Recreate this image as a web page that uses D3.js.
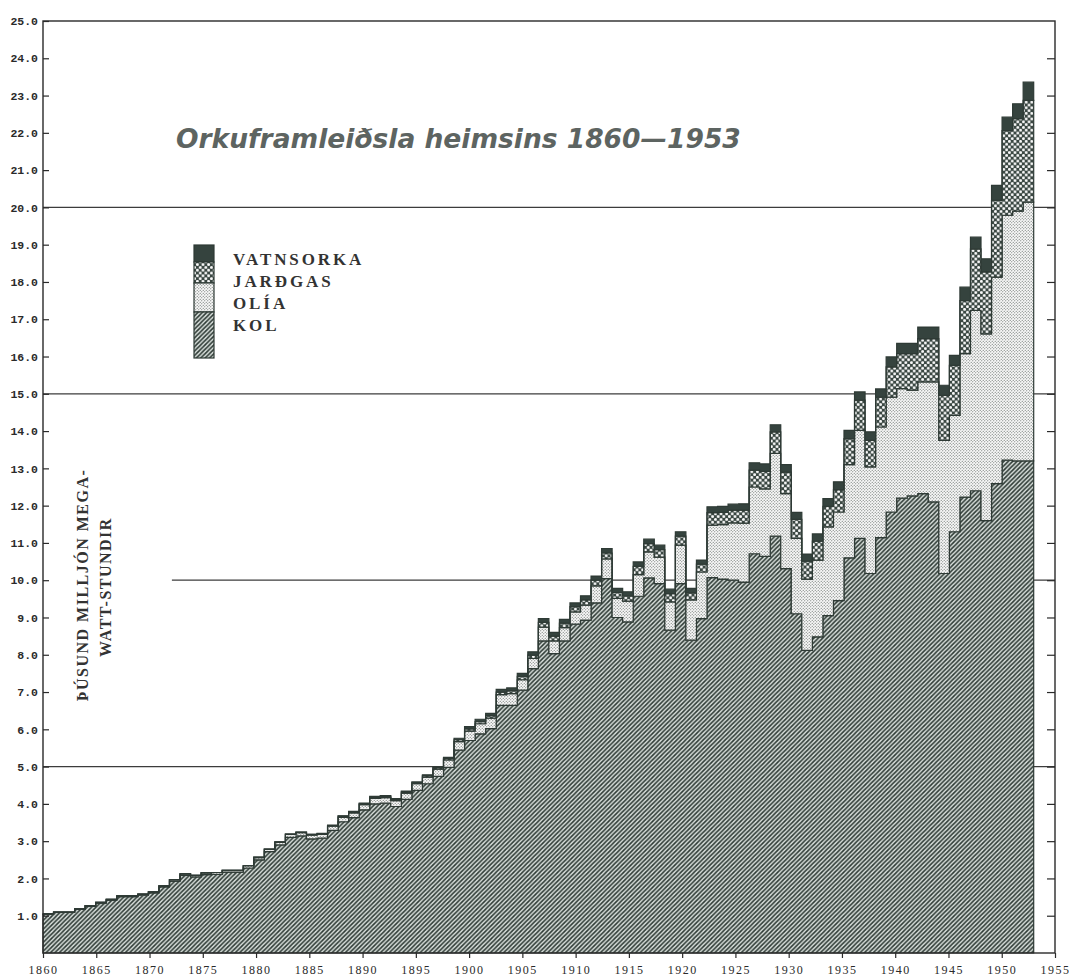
<!DOCTYPE html>
<html lang="is">
<head>
<meta charset="UTF-8">
<title>Orkuframleiðsla heimsins 1860—1953</title>
<script src="https://d3js.org/d3.v7.min.js"></script>
<style>
  body { margin: 0; background: #fff; }
  svg { display: block; background: #fff; }
  .ylab { font: bold 11.5px "Liberation Mono", monospace; fill: #2a2a2a; }
  .xlab { font: 12px "Liberation Serif", serif; fill: #2a2a2a; letter-spacing: 1.5px; }
  .leg { font: bold 17px "Liberation Serif", serif; fill: #333; letter-spacing: 2.9px; }
  .ytitle { font: bold 16px "Liberation Serif", serif; fill: #333; letter-spacing: 1.5px; }
  .title { font: italic bold 26.5px "DejaVu Sans", sans-serif; fill: #5d6461; }
</style>
</head>
<body>
<svg width="1069" height="976"></svg>
<script>
// ár 1860-1953 (eitt gildi á ári), í þúsund milljón megawattstundum
const years = d3.range(1860, 1954);

const kol = [
  1.04, 1.09, 1.09, 1.17, 1.25, 1.34, 1.42, 1.51, 1.51, 1.55,
  1.61, 1.77, 1.93, 2.08, 2.04, 2.10, 2.11, 2.17, 2.17, 2.28,
  2.50, 2.72, 2.90, 3.10, 3.14, 3.06, 3.08, 3.29, 3.52, 3.63,
  3.84, 4.00, 4.02, 3.93, 4.12, 4.36, 4.54, 4.74, 4.98, 5.44,
  5.70, 5.88, 6.02, 6.64, 6.64, 7.05, 7.63, 8.37, 8.03, 8.37,
  8.82, 8.93, 9.39, 10.04, 9.00, 8.88, 9.57, 10.06, 9.91, 8.66,
  9.91, 8.39, 8.97, 10.07, 10.03, 10.00, 9.95, 10.71, 10.64, 11.18,
  10.31, 9.10, 8.12, 8.48, 9.05, 9.45, 10.60, 11.12, 10.18, 11.14,
  11.83, 12.20, 12.26, 12.32, 12.10, 10.18, 11.30, 12.23, 12.40, 11.60,
  12.59, 13.22, 13.20, 13.20
];
const olia = [
  0.01, 0.01, 0.01, 0.02, 0.02, 0.02, 0.02, 0.02, 0.03, 0.03,
  0.03, 0.03, 0.04, 0.04, 0.04, 0.05, 0.05, 0.05, 0.05, 0.06,
  0.06, 0.06, 0.07, 0.08, 0.09, 0.10, 0.10, 0.11, 0.12, 0.13,
  0.14, 0.15, 0.15, 0.16, 0.17, 0.18, 0.18, 0.19, 0.20, 0.23,
  0.25, 0.27, 0.28, 0.29, 0.32, 0.28, 0.27, 0.37, 0.34, 0.36,
  0.33, 0.40, 0.46, 0.53, 0.51, 0.56, 0.58, 0.70, 0.71, 0.76,
  1.03, 1.08, 1.25, 1.41, 1.46, 1.54, 1.58, 1.79, 1.81, 2.22,
  2.01, 2.02, 1.91, 2.06, 2.38, 2.38, 2.50, 2.90, 2.86, 2.97,
  3.08, 2.94, 2.84, 3.00, 3.22, 3.57, 3.12, 3.85, 4.84, 5.01,
  5.54, 6.57, 6.70, 6.94
];
const jardgas = [
  0, 0, 0, 0, 0, 0, 0, 0, 0, 0,
  0, 0, 0, 0, 0, 0, 0, 0, 0, 0,
  0.01, 0.01, 0.01, 0.01, 0.01, 0.02, 0.02, 0.02, 0.03, 0.03,
  0.03, 0.03, 0.03, 0.03, 0.03, 0.03, 0.04, 0.04, 0.04, 0.05,
  0.06, 0.06, 0.07, 0.07, 0.08, 0.09, 0.09, 0.13, 0.13, 0.12,
  0.14, 0.14, 0.15, 0.16, 0.16, 0.14, 0.22, 0.22, 0.20, 0.22,
  0.24, 0.19, 0.21, 0.33, 0.33, 0.34, 0.35, 0.45, 0.47, 0.58,
  0.58, 0.51, 0.48, 0.51, 0.55, 0.60, 0.70, 0.81, 0.71, 0.80,
  0.81, 0.94, 0.98, 1.16, 1.16, 1.21, 1.34, 1.42, 1.65, 1.66,
  2.06, 2.27, 2.48, 2.73
];
const vatnsorka = [
  0, 0, 0, 0, 0, 0, 0, 0, 0, 0,
  0, 0, 0, 0, 0, 0, 0, 0, 0, 0,
  0, 0, 0, 0, 0, 0, 0.01, 0.01, 0.01, 0.01,
  0.01, 0.02, 0.02, 0.02, 0.02, 0.02, 0.02, 0.02, 0.03, 0.04,
  0.06, 0.06, 0.06, 0.07, 0.07, 0.08, 0.09, 0.10, 0.10, 0.10,
  0.10, 0.11, 0.11, 0.12, 0.11, 0.11, 0.12, 0.12, 0.12, 0.12,
  0.12, 0.12, 0.11, 0.16, 0.16, 0.16, 0.17, 0.20, 0.20, 0.19,
  0.20, 0.19, 0.19, 0.19, 0.21, 0.21, 0.22, 0.22, 0.23, 0.22,
  0.27, 0.27, 0.27, 0.31, 0.31, 0.27, 0.27, 0.36, 0.31, 0.35,
  0.40, 0.36, 0.40, 0.49
];

const keys = ["kol", "olia", "jardgas", "vatnsorka"];
const legendLabels = ["VATNSORKA", "JARÐGAS", "OLÍA", "KOL"];
const yTicks = d3.range(1, 26);
const xTicks = d3.range(1860, 1956, 5);
const gridValues = [5, 10, 15, 20];
const titleText = "Orkuframleiðsla heimsins 1860—1953";
const yTitle = ["ÞÚSUND MILLJÓN MEGA-", "WATT-STUNDIR"];

const rows = years.map((yr, i) => ({
  year: yr, kol: kol[i], olia: olia[i], jardgas: jardgas[i], vatnsorka: vatnsorka[i]
}));

const svg = d3.select("svg");
const ink = "#2e3a35";

const x = d3.scaleLinear().domain([1860, 1955]).range([43, 1055]);
const y = d3.scaleLinear().domain([0, 25]).range([953, 21]);
const band = d3.scaleBand().domain(years).range([x(1860), x(1953)]).padding(0);

// mynstur
const defs = svg.append("defs");

const pKol = defs.append("pattern").attr("id", "p-kol")
  .attr("patternUnits", "userSpaceOnUse").attr("width", 4.4).attr("height", 4.4);
pKol.append("rect").attr("width", 4.4).attr("height", 4.4).attr("fill", "#d9e0dc");
pKol.append("path")
  .attr("d", "M-1.1,1.1 L1.1,-1.1 M0,4.4 L4.4,0 M3.3,5.5 L5.5,3.3")
  .attr("stroke", ink).attr("stroke-width", 1.6);

const pOlia = defs.append("pattern").attr("id", "p-olia")
  .attr("patternUnits", "userSpaceOnUse").attr("width", 3).attr("height", 3);
pOlia.append("rect").attr("width", 3).attr("height", 3).attr("fill", "#f8f8f8");
pOlia.append("circle").attr("cx", 0.75).attr("cy", 0.75).attr("r", 0.6).attr("fill", "#5f6763");
pOlia.append("circle").attr("cx", 2.25).attr("cy", 2.25).attr("r", 0.6).attr("fill", "#5f6763");

const pGas = defs.append("pattern").attr("id", "p-gas")
  .attr("patternUnits", "userSpaceOnUse").attr("width", 5.6).attr("height", 5.6);
pGas.append("rect").attr("width", 5.6).attr("height", 5.6).attr("fill", "#3a4742");
pGas.append("circle").attr("cx", 1.4).attr("cy", 1.4).attr("r", 1.45).attr("fill", "#fafafa");
pGas.append("circle").attr("cx", 4.2).attr("cy", 4.2).attr("r", 1.45).attr("fill", "#fafafa");

const fills = {
  kol: "url(#p-kol)",
  olia: "url(#p-olia)",
  jardgas: "url(#p-gas)",
  vatnsorka: "#35433e"
};

// hnitalínur
svg.append("g").selectAll("line")
  .data(gridValues)
  .join("line")
  .attr("x1", d => d === 10 ? x(1872.1) : x(1860))
  .attr("x2", x(1955))
  .attr("y1", d => y(d)).attr("y2", d => y(d))
  .attr("stroke", "#3c3c3c").attr("stroke-width", 1.2);

// staflaðir stigar
const series = d3.stack().keys(keys)(rows);
const area = d3.area()
  .curve(d3.curveStepAfter)
  .x(d => d.x)
  .y0(d => y(d.y0))
  .y1(d => y(d.y1));

const endX = band(1953) + band.bandwidth();
series.forEach(s => {
  const pts = s.map(d => ({ x: band(d.data.year), y0: d[0], y1: d[1] }));
  const last = pts[pts.length - 1];
  pts.push({ x: endX, y0: last.y0, y1: last.y1 });
  svg.append("path")
    .datum(pts)
    .attr("d", area)
    .attr("fill", fills[s.key])
    .attr("stroke", ink)
    .attr("stroke-width", 1.2)
    .attr("stroke-linejoin", "miter");
});

// rammi
svg.append("rect")
  .attr("x", x(1860)).attr("y", y(25))
  .attr("width", x(1955) - x(1860)).attr("height", y(0) - y(25))
  .attr("fill", "none").attr("stroke", "#2a2a2a").attr("stroke-width", 1.4);

// ásar
const yAxis = svg.append("g")
  .attr("transform", `translate(${x(1860)},0)`)
  .call(d3.axisLeft(y).tickValues(yTicks).tickFormat(d3.format(".1f"))
    .tickSize(-6).tickSizeOuter(0).tickPadding(5));
yAxis.select(".domain").remove();
yAxis.selectAll("line").attr("stroke", "#2a2a2a").attr("stroke-width", 1.2);
yAxis.selectAll("text").attr("class", "ylab").attr("fill", null);

const yRight = svg.append("g")
  .attr("transform", `translate(${x(1955)},0)`)
  .call(d3.axisRight(y).tickValues(yTicks.slice(0, -1)).tickFormat("")
    .tickSize(-8).tickSizeOuter(0));
yRight.select(".domain").remove();
yRight.selectAll("line").attr("stroke", "#2a2a2a").attr("stroke-width", 1.2);

const xAxis = svg.append("g")
  .attr("transform", `translate(0,${y(0)})`)
  .call(d3.axisBottom(x).tickValues(xTicks).tickFormat(d3.format("d"))
    .tickSize(5).tickSizeOuter(0).tickPadding(7));
xAxis.select(".domain").remove();
xAxis.selectAll("line").attr("stroke", "#2a2a2a").attr("stroke-width", 1.2);
xAxis.selectAll("text").attr("class", "xlab").attr("fill", null);

// titill
svg.append("text")
  .attr("class", "title")
  .attr("x", 176).attr("y", 148)
  .text(titleText);

// skýringar
const legSegs = [
  { key: "vatnsorka", y0: 245, h: 17 },
  { key: "jardgas", y0: 262, h: 21 },
  { key: "olia", y0: 283, h: 29 },
  { key: "kol", y0: 312, h: 46 }
];
svg.append("g").selectAll("rect")
  .data(legSegs)
  .join("rect")
  .attr("x", 194).attr("y", d => d.y0)
  .attr("width", 20).attr("height", d => d.h)
  .attr("fill", d => fills[d.key])
  .attr("stroke", ink).attr("stroke-width", 1.2);

svg.append("g").selectAll("text")
  .data(legendLabels)
  .join("text")
  .attr("class", "leg")
  .attr("x", 233)
  .attr("y", (d, i) => 265 + i * 22)
  .text(d => d);

// y-ásheiti
svg.append("g").selectAll("text")
  .data(yTitle)
  .join("text")
  .attr("class", "ytitle")
  .attr("text-anchor", "middle")
  .attr("transform", (d, i) => `translate(${88 + i * 23},${585 + i * 2}) rotate(-90)`)
  .text(d => d);
</script>
</body>
</html>
